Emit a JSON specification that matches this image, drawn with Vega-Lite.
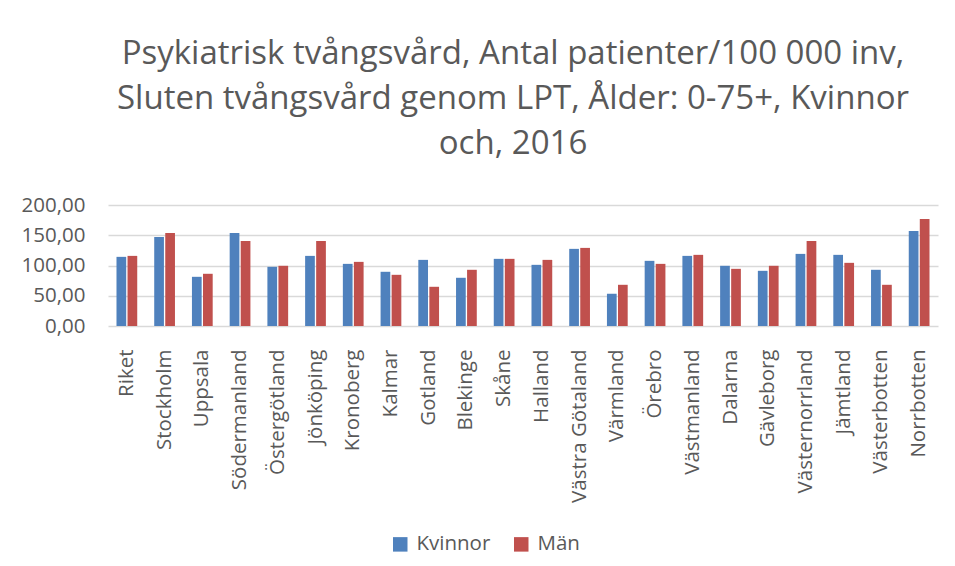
{
  "$schema": "https://vega.github.io/schema/vega-lite/v6.json",
  "width": 830,
  "height": 121,
  "autosize": "none",
  "padding": {"left": 108, "top": 205, "right": 17, "bottom": 240},
  "background": "white",
  "title": {
    "text": ["Psykiatrisk tvångsvård, Antal patienter/100 000 inv,", "Sluten tvångsvård genom LPT, Ålder: 0-75+, Kvinnor", "och, 2016"],
    "font": "Open Sans",
    "fontSize": 33,
    "fontWeight": "normal",
    "color": "#595959",
    "lineHeight": 45,
    "anchor": "middle",
    "frame": "group",
    "offset": 34,
    "dx": -10
  },
  "data": {
    "values": [
      {"region": "Riket", "kon": "Kvinnor", "value": 114.3}, {"region": "Riket", "kon": "Män", "value": 115.9},
      {"region": "Stockholm", "kon": "Kvinnor", "value": 147.3}, {"region": "Stockholm", "kon": "Män", "value": 153.8},
      {"region": "Uppsala", "kon": "Kvinnor", "value": 81.3}, {"region": "Uppsala", "kon": "Män", "value": 86.3},
      {"region": "Södermanland", "kon": "Kvinnor", "value": 153.8}, {"region": "Södermanland", "kon": "Män", "value": 140.7},
      {"region": "Östergötland", "kon": "Kvinnor", "value": 97.8}, {"region": "Östergötland", "kon": "Män", "value": 99.5},
      {"region": "Jönköping", "kon": "Kvinnor", "value": 115.9}, {"region": "Jönköping", "kon": "Män", "value": 140.7},
      {"region": "Kronoberg", "kon": "Kvinnor", "value": 102.7}, {"region": "Kronoberg", "kon": "Män", "value": 106.0},
      {"region": "Kalmar", "kon": "Kvinnor", "value": 89.6}, {"region": "Kalmar", "kon": "Män", "value": 84.6},
      {"region": "Gotland", "kon": "Kvinnor", "value": 109.3}, {"region": "Gotland", "kon": "Män", "value": 64.8},
      {"region": "Blekinge", "kon": "Kvinnor", "value": 79.7}, {"region": "Blekinge", "kon": "Män", "value": 92.9},
      {"region": "Skåne", "kon": "Kvinnor", "value": 111.0}, {"region": "Skåne", "kon": "Män", "value": 111.0},
      {"region": "Halland", "kon": "Kvinnor", "value": 101.1}, {"region": "Halland", "kon": "Män", "value": 109.3},
      {"region": "Västra Götaland", "kon": "Kvinnor", "value": 127.5}, {"region": "Västra Götaland", "kon": "Män", "value": 129.1},
      {"region": "Värmland", "kon": "Kvinnor", "value": 53.3}, {"region": "Värmland", "kon": "Män", "value": 68.1},
      {"region": "Örebro", "kon": "Kvinnor", "value": 107.7}, {"region": "Örebro", "kon": "Män", "value": 102.7},
      {"region": "Västmanland", "kon": "Kvinnor", "value": 115.9}, {"region": "Västmanland", "kon": "Män", "value": 117.6},
      {"region": "Dalarna", "kon": "Kvinnor", "value": 99.5}, {"region": "Dalarna", "kon": "Män", "value": 94.5},
      {"region": "Gävleborg", "kon": "Kvinnor", "value": 91.2}, {"region": "Gävleborg", "kon": "Män", "value": 99.5},
      {"region": "Västernorrland", "kon": "Kvinnor", "value": 119.2}, {"region": "Västernorrland", "kon": "Män", "value": 140.7},
      {"region": "Jämtland", "kon": "Kvinnor", "value": 117.6}, {"region": "Jämtland", "kon": "Män", "value": 104.4},
      {"region": "Västerbotten", "kon": "Kvinnor", "value": 92.9}, {"region": "Västerbotten", "kon": "Män", "value": 68.1},
      {"region": "Norrbotten", "kon": "Kvinnor", "value": 157.1}, {"region": "Norrbotten", "kon": "Män", "value": 176.9}
    ]
  },
  "mark": {"type": "bar"},
  "encoding": {
    "x": {
      "field": "region",
      "type": "nominal",
      "sort": null,
      "title": null,
      "scale": {"paddingInner": 0.45, "paddingOuter": 0.225},
      "axis": {
        "labelAngle": -90,
        "labelFont": "Open Sans",
        "labelFontSize": 20.5,
        "labelColor": "#595959",
        "labelPadding": 23,
        "ticks": false,
        "tickSize": 0,
        "domain": false,
        "grid": false
      }
    },
    "xOffset": {"field": "kon", "type": "nominal", "sort": ["Kvinnor", "Män"], "scale": {"paddingInner": 0.12}},
    "y": {
      "field": "value",
      "type": "quantitative",
      "title": null,
      "scale": {"domain": [0, 200], "nice": false},
      "axis": {
        "values": [0, 50, 100, 150, 200],
        "labelExpr": "replace(format(datum.value, '.2f'), '.', ',')",
        "labelFont": "Open Sans",
        "labelFontSize": 20.5,
        "labelColor": "#595959",
        "labelPadding": 23,
        "ticks": false,
        "tickSize": 0,
        "domain": false,
        "grid": true,
        "gridColor": "#d9d9d9",
        "gridWidth": 1.5
      }
    },
    "color": {
      "field": "kon",
      "type": "nominal",
      "sort": ["Kvinnor", "Män"],
      "scale": {"domain": ["Kvinnor", "Män"], "range": ["#4f81bd", "#c0504d"]},
      "legend": {
        "title": null,
        "orient": "none",
        "legendX": 282,
        "legendY": 329,
        "direction": "horizontal",
        "symbolType": "square",
        "symbolSize": 210,
        "symbolStrokeWidth": 0,
        "labelFont": "Open Sans",
        "labelFontSize": 20.5,
        "labelColor": "#595959",
        "columnPadding": 20,
        "labelOffset": 6
      }
    }
  },
  "config": {"view": {"stroke": null}}
}
